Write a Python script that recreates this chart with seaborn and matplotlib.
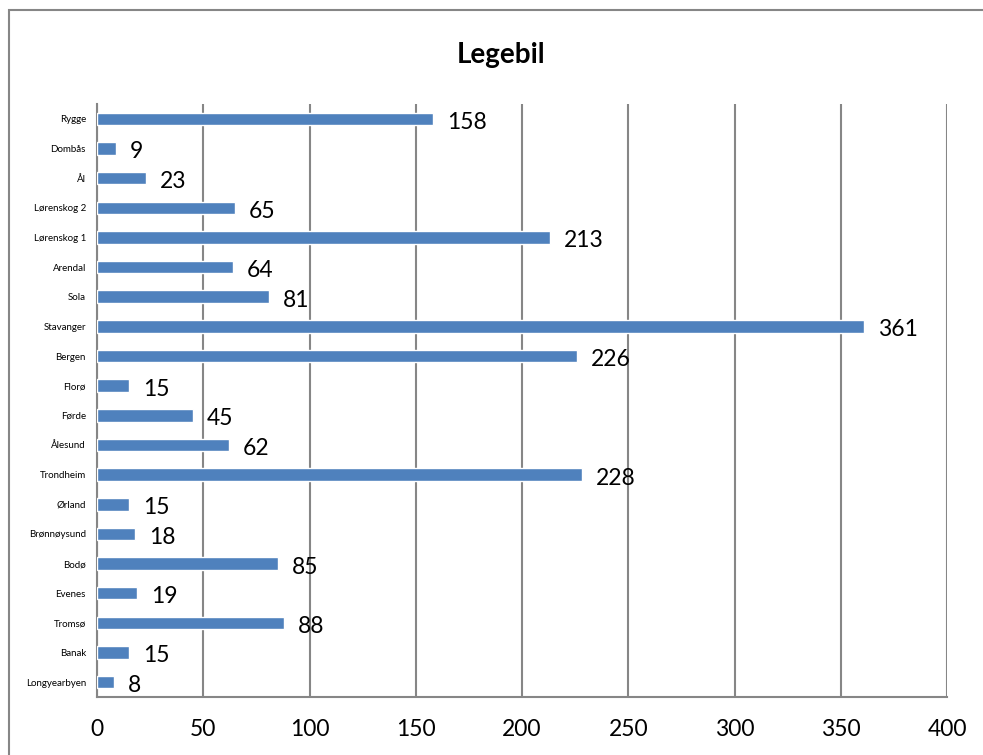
import matplotlib
matplotlib.use("Agg")
import matplotlib.pyplot as plt
from matplotlib.patches import Rectangle
from matplotlib.ticker import FixedLocator
import seaborn as sns
import pandas as pd

stations = ["Rygge", "Dombås", "Ål", "Lørenskog 2", "Lørenskog 1", "Arendal", "Sola",
            "Stavanger", "Bergen", "Florø", "Førde", "Ålesund", "Trondheim", "Ørland",
            "Brønnøysund", "Bodø", "Evenes", "Tromsø", "Banak", "Longyearbyen"]
counts = [158, 9, 23, 65, 213, 64, 81, 361, 226, 15, 45, 62, 228, 15, 18, 85, 19, 88, 15, 8]
x_ticks = [0, 50, 100, 150, 200, 250, 300, 350, 400]
title = "Legebil"

df = pd.DataFrame({"stasjon": stations, "antall": counts})

sns.set_style("white")
plt.rcParams["font.family"] = ["Lato", "DejaVu Sans"]

grey = "#868686"
bar_colour = "#4F81BD"

fig = plt.figure(figsize=(9.83, 7.55), dpi=100)
ax = fig.add_axes([97 / 983, 1 - 697 / 755, 850 / 983, (697 - 104) / 755])

sns.barplot(data=df, y="stasjon", x="antall", orient="h", color=bar_colour,
            width=0.42, saturation=1, ax=ax, zorder=3)

ax.set_xlim(0, 400)
ax.set_ylim(len(stations) - 0.5, -0.5)
ax.set_xlabel("")
ax.set_ylabel("")

# vertical gridlines
ax.xaxis.set_major_locator(FixedLocator(x_ticks))
ax.grid(axis="x", color=grey, linewidth=1.5, zorder=0)
ax.grid(axis="y", visible=False)
ax.set_axisbelow(True)

for side in ["top", "right"]:
    ax.spines[side].set_visible(False)
for side in ["left", "bottom"]:
    ax.spines[side].set_color(grey)
    ax.spines[side].set_linewidth(1.5)

ax.tick_params(axis="x", which="major", direction="out", length=6, width=1.5,
               color=grey, labelsize=16.5, pad=10, labelcolor="black")
ax.tick_params(axis="y", which="major", length=0, labelsize=7, pad=8, labelcolor="black")
ax.yaxis.set_minor_locator(FixedLocator([i - 0.5 for i in range(len(stations) + 1)]))
ax.tick_params(axis="y", which="minor", direction="out", length=5, width=1.5, color=grey)
ax.set_xticklabels([str(t) for t in x_ticks])

# value labels just past the end of each bar, sitting slightly low
for cont in ax.containers:
    anns = ax.bar_label(cont, labels=[str(v) for v in counts], padding=10,
                        fontsize=16.5, color="black")
    for a in anns:
        a.xyann = (a.xyann[0], -2.5)

fig.text(501 / 983, 1 - 55 / 755, title, ha="center", va="center", fontsize=20,
         fontweight="bold", color="black")

# outer chart frame
fig.patches.append(Rectangle((9 / 983, -0.1), 1.2, 1 - 10 / 755 + 0.1,
                             transform=fig.transFigure, fill=False,
                             edgecolor=grey, linewidth=1.5))

fig.savefig("out.png", dpi=100)
